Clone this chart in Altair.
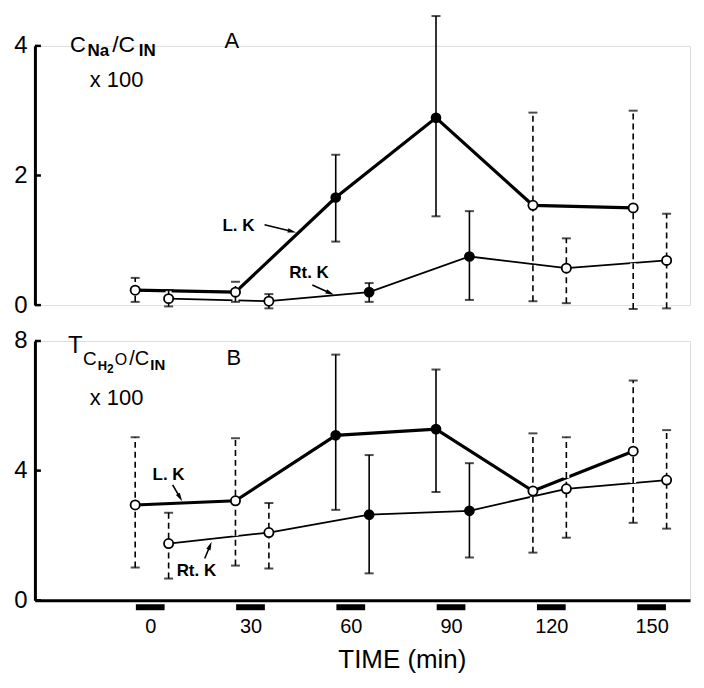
import math
import altair as alt
import pandas as pd

FONT = "Liberation Sans"

# ---- data ----
times = [0, 30, 60, 90, 120, 150]
lk_time = [-4.5, 25.5, 55.5, 85.5, 114.5, 144.5]
rt_time = [5.5, 35.5, 65.5, 95.5, 124.5, 154.5]
filled = [False, False, True, True, False, False]
period_half = 4.3  # half-width (min) of the collection-period bars under the axis

# Panel A: C_Na / C_IN x 100
a_lk_mean = [0.23, 0.20, 1.66, 2.89, 1.54, 1.50]
a_lk_hi = [0.42, 0.36, 2.32, 4.46, 2.97, 3.00]
a_lk_lo = [0.05, 0.05, 0.98, 1.37, 0.06, -0.06]
a_rt_mean = [0.10, 0.06, 0.20, 0.75, 0.57, 0.69]
a_rt_hi = [0.23, 0.17, 0.34, 1.45, 1.03, 1.41]
a_rt_lo = [-0.02, -0.05, 0.05, 0.08, 0.03, -0.05]

# Panel B: T_CH2O / C_IN x 100
b_lk_mean = [2.94, 3.07, 5.09, 5.28, 3.37, 4.60]
b_lk_hi = [5.03, 5.00, 7.58, 7.12, 5.15, 6.78]
b_lk_lo = [1.01, 1.07, 2.79, 3.34, 1.47, 2.39]
b_rt_mean = [1.75, 2.09, 2.64, 2.76, 3.44, 3.71]
b_rt_hi = [2.70, 3.00, 4.48, 4.23, 5.03, 5.25]
b_rt_lo = [0.67, 0.98, 0.83, 1.32, 1.93, 2.21]

# annotation texts (data coordinates)
a_texts = ["C", "Na", "/C", "IN", "x 100", "A", "L. K", "Rt. K"]
a_text_t = [-24.0, -18.8, -11.4, -3.4, -18.1, 22.2, 21.6, 41.6]
a_text_v = [3.91, 3.85, 3.91, 3.85, 3.37, 3.97, 1.14, 0.42]
a_arrow_t = [34.2, 48.5]
a_arrow_v = [1.24, 0.31]
a_arrow_t2 = [42.2, 53.6]
a_arrow_v2 = [1.14, 0.19]

b_texts = ["T", "C", "H", "2", "O", "/C", "IN", "B", "x 100", "L. K", "Rt. K"]
b_text_t = [-24.6, -20.1, -15.7, -12.9, -10.6, -6.3, 0.0, 22.8, -18.1, 0.7, 7.9]
b_text_v = [7.64, 7.27, 7.09, 7.02, 7.27, 7.27, 7.12, 7.27, 6.04, 3.71, 0.74]
b_arrow_t = [6.7, 16.3]
b_arrow_v = [3.56, 1.29]
b_arrow_t2 = [8.8, 17.8]
b_arrow_v2 = [3.19, 1.66]

# styles for annotation texts
a_text_style = [(22, "normal"), (17, "bold"), (23, "normal"), (17, "bold"),
                (22, "normal"), (22, "normal"), (17, "bold"), (17, "bold")]
b_text_style = [(24, "normal"), (19, "normal"), (13, "bold"), (12, "bold"),
                (16, "normal"), (20, "normal"), (15, "bold"), (22, "normal"),
                (22, "normal"), (17, "bold"), (17, "bold")]

XDOM = [-34.5, 161.5]
W = 657
H = 260
ARROW = "M0,-1L0.45,0.7L-0.45,0.7Z"


def series(t, mean, lo, hi):
    return pd.DataFrame({"t": t, "v": mean, "lo": lo, "hi": hi, "filled": filled})


def panel(lk, rt, ydom, yticks, texts, tt, tv, styles, at, av, at2, av2, bottom):
    xscale = alt.Scale(domain=XDOM, nice=False, zero=False)
    yscale = alt.Scale(domain=ydom, nice=False, zero=False)
    if bottom:
        xaxis = alt.Axis(values=times, tickSize=0, labelPadding=16, labelFontSize=20,
                         labelFont=FONT, labelColor="black", domainWidth=3,
                         domainColor="black", grid=False, title="TIME (min)",
                         titleFont=FONT, titleFontSize=26, titleFontWeight="normal",
                         titleColor="black", titlePadding=10, titleX=368,
                         titleAlign="center")
    else:
        xaxis = None
    yaxis = alt.Axis(values=yticks, tickSize=0, labelPadding=8, labelFontSize=24,
                     labelFont=FONT, labelColor="black", domainWidth=3,
                     domainColor="black", grid=False, title=None)
    X = alt.X("t:Q", scale=xscale, axis=xaxis)
    Y = alt.Y("v:Q", scale=yscale, axis=yaxis)
    Ylo = alt.Y("lo:Q", scale=yscale, axis=yaxis)

    both = pd.concat([lk, rt], ignore_index=True)
    solid = both[both["filled"]]
    dashed = both[~both["filled"]]

    layers = []
    # inward y ticks
    ticks_df = pd.DataFrame({"v": yticks})
    layers.append(alt.Chart(ticks_df).mark_rule(color="black", strokeWidth=2.5).encode(
        x=alt.value(0), x2=alt.value(6), y=Y))
    if bottom:
        per = pd.DataFrame({"c": times})
        layers.append(alt.Chart(per).transform_calculate(
            t=f"datum.c - {period_half}", t2=f"datum.c + {period_half}"
        ).mark_rule(color="black", strokeWidth=6, strokeCap="butt").encode(
            x=X, x2="t2:Q", y=alt.value(H + 7)))
    layers.append(alt.Chart(solid).mark_rule(color="black", strokeWidth=1.6).encode(
        x=X, y=Ylo, y2="hi:Q"))
    layers.append(alt.Chart(lk).mark_line(color="black", strokeWidth=3.2).encode(x=X, y=Y))
    layers.append(alt.Chart(rt).mark_line(color="black", strokeWidth=1.8).encode(x=X, y=Y))
    # dashed bars break the lines they cross (white halo under each dash)
    layers.append(alt.Chart(dashed).mark_rule(color="white", strokeWidth=6,
                                              strokeDash=[6, 4], strokeCap="butt").encode(
        x=X, y=Ylo, y2="hi:Q"))
    layers.append(alt.Chart(dashed).mark_rule(color="black", strokeWidth=1.6,
                                              strokeDash=[6, 4], strokeCap="butt").encode(
        x=X, y=Ylo, y2="hi:Q"))
    for f in ("lo", "hi"):
        layers.append(alt.Chart(both).mark_tick(orient="horizontal", color="black",
                                                size=9, thickness=2).encode(
            x=X, y=alt.Y(f"{f}:Q", scale=yscale, axis=yaxis)))
    layers.append(alt.Chart(dashed).mark_point(
        shape="circle", filled=True, fill="white", stroke="black", strokeWidth=1.8,
        size=85, opacity=1).encode(x=X, y=Y))
    layers.append(alt.Chart(solid).mark_point(
        shape="circle", filled=True, fill="black", stroke="black", strokeWidth=1.5,
        size=85, opacity=1).encode(x=X, y=Y))
    for s, t_, v_, (fs, fw) in zip(texts, tt, tv, styles):
        d = pd.DataFrame({"t": [t_], "v": [v_], "s": [s]})
        layers.append(alt.Chart(d).mark_text(align="left", baseline="alphabetic",
                                             font=FONT, fontSize=fs, fontWeight=fw,
                                             color="black").encode(
            x=X, y=Y, text="s:N"))
    # annotation arrows
    pxt = W / (XDOM[1] - XDOM[0])
    pxv = H / (ydom[1] - ydom[0])
    angs = []
    for a, b, c, d in zip(at, av, at2, av2):
        dx = (c - a) * pxt
        dy = -(d - b) * pxv
        angs.append(math.degrees(math.atan2(dx, -dy)) % 360)
    arr = pd.DataFrame({"t": at, "v": av, "t2": at2, "v2": av2})
    layers.append(alt.Chart(arr).mark_rule(color="black", strokeWidth=1.6).encode(
        x=X, y=Y, x2="t2:Q", y2="v2:Q"))
    heads = pd.DataFrame({"t": at2, "v": av2, "ang": angs})
    layers.append(alt.Chart(heads).mark_point(shape=ARROW, filled=True, color="black",
                                              size=100, opacity=1).encode(
        x=X, y=Y, angle=alt.Angle("ang:Q", scale=None)))
    return alt.layer(*layers).properties(width=W, height=H)


lkA = series(lk_time, a_lk_mean, a_lk_lo, a_lk_hi)
rtA = series(rt_time, a_rt_mean, a_rt_lo, a_rt_hi)
lkB = series(lk_time, b_lk_mean, b_lk_lo, b_lk_hi)
rtB = series(rt_time, b_rt_mean, b_rt_lo, b_rt_hi)

pA = panel(lkA, rtA, [0, 4], [0, 2, 4], a_texts, a_text_t, a_text_v, a_text_style,
           a_arrow_t, a_arrow_v, a_arrow_t2, a_arrow_v2, False)
pB = panel(lkB, rtB, [0, 8], [0, 4, 8], b_texts, b_text_t, b_text_v, b_text_style,
           b_arrow_t, b_arrow_v, b_arrow_t2, b_arrow_v2, True)

chart = alt.vconcat(pA, pB, spacing=36, bounds="flush").configure_view(
    stroke=None).configure(background="white")

chart.save("out.html", embed_options={"renderer": "svg", "actions": False})
